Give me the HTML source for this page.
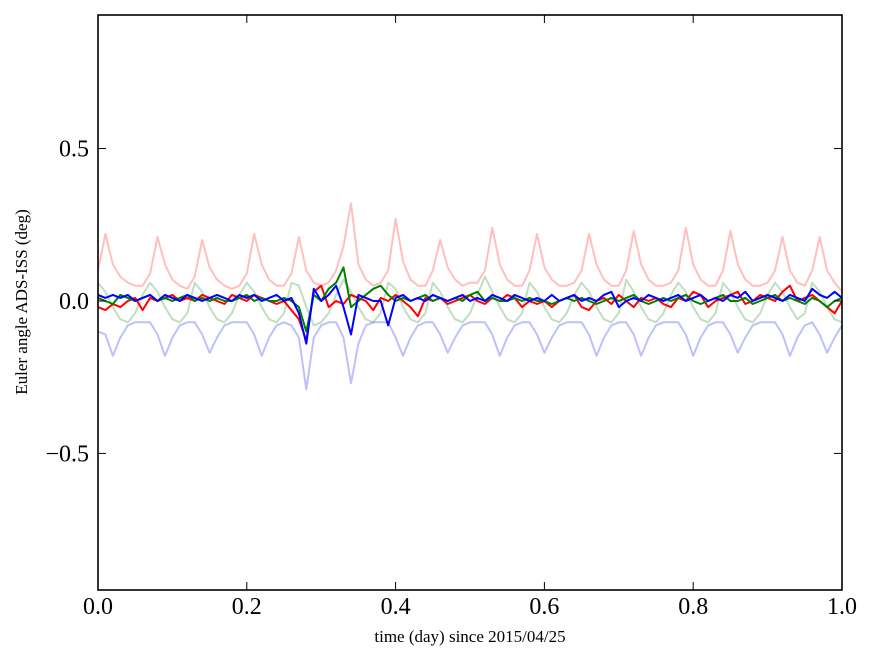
<!DOCTYPE html>
<html><head><meta charset="utf-8"><style>
body{margin:0;background:#fff;}
svg text{font-family:"Liberation Serif",serif;fill:#000;}
</style></head><body>
<svg id="c" width="875" height="662">
<rect x="0" y="0" width="875" height="662" fill="#fff"/>
<g id="series"></g>
<rect x="98" y="15" width="744" height="575" fill="none" stroke="#000" stroke-width="1.6"/>
<g id="axes"></g>
<text x="470" y="642" font-size="17" text-anchor="middle">time (day) since 2015/04/25</text>
<text transform="translate(27,302) rotate(-90)" font-size="17" text-anchor="middle">Euler angle ADS-ISS (deg)</text>
</svg>
<script>
const xTicks=[0,0.2,0.4,0.6,0.8,1.0];
const xTickLabels=["0.0","0.2","0.4","0.6","0.8","1.0"];
const yTicks=[-0.5,0,0.5];
const yTickLabels=["\u22120.5","0.0","0.5"];
const pinkFaint=[0.1,0.22,0.12,0.08,0.06,0.05,0.05,0.09,0.21,0.12,0.07,0.05,0.04,0.08,0.2,0.11,0.07,0.05,0.04,0.05,0.09,0.22,0.12,0.07,0.05,0.05,0.09,0.21,0.1,0.06,0.05,0.06,0.1,0.18,0.32,0.12,0.07,0.05,0.06,0.1,0.27,0.13,0.07,0.05,0.05,0.1,0.2,0.11,0.07,0.05,0.06,0.06,0.1,0.24,0.12,0.07,0.05,0.05,0.1,0.22,0.11,0.07,0.05,0.05,0.06,0.1,0.22,0.12,0.07,0.05,0.05,0.1,0.23,0.12,0.07,0.05,0.05,0.06,0.1,0.24,0.12,0.07,0.05,0.05,0.1,0.23,0.12,0.07,0.05,0.05,0.06,0.1,0.21,0.1,0.06,0.05,0.1,0.21,0.1,0.06,0.03];
const greenFaint=[0.06,0.03,-0.02,-0.06,-0.07,-0.04,0.02,0.06,0.03,-0.02,-0.06,-0.07,-0.04,0.06,0.03,-0.02,-0.06,-0.07,-0.04,0.02,0.06,0.03,-0.02,-0.06,-0.07,-0.04,0.06,0.05,-0.02,-0.08,-0.07,-0.04,0.02,0.07,0.03,-0.02,-0.06,-0.07,-0.04,0.06,0.04,-0.02,-0.06,-0.07,-0.04,0.06,0.03,-0.02,-0.06,-0.07,-0.04,0.02,0.08,0.03,-0.02,-0.06,-0.07,-0.04,0.06,0.03,-0.02,-0.06,-0.07,-0.04,0.02,0.06,0.03,-0.02,-0.06,-0.07,-0.04,0.07,0.03,-0.02,-0.06,-0.07,-0.04,0.02,0.06,0.03,-0.02,-0.06,-0.07,-0.04,0.06,0.03,-0.02,-0.06,-0.07,-0.04,0.02,0.06,0.03,-0.02,-0.06,-0.04,0.06,0.03,-0.02,-0.06,-0.07];
const blueFaint=[-0.1,-0.11,-0.18,-0.12,-0.08,-0.07,-0.07,-0.07,-0.11,-0.18,-0.12,-0.08,-0.07,-0.07,-0.11,-0.17,-0.12,-0.08,-0.07,-0.07,-0.07,-0.11,-0.18,-0.12,-0.08,-0.07,-0.08,-0.12,-0.29,-0.12,-0.08,-0.07,-0.07,-0.12,-0.27,-0.14,-0.08,-0.07,-0.07,-0.07,-0.12,-0.18,-0.12,-0.08,-0.07,-0.07,-0.11,-0.17,-0.12,-0.08,-0.07,-0.07,-0.07,-0.11,-0.18,-0.12,-0.08,-0.07,-0.07,-0.11,-0.17,-0.12,-0.08,-0.07,-0.07,-0.07,-0.11,-0.18,-0.12,-0.08,-0.07,-0.07,-0.11,-0.18,-0.12,-0.08,-0.07,-0.07,-0.07,-0.11,-0.18,-0.12,-0.08,-0.07,-0.07,-0.11,-0.17,-0.12,-0.08,-0.07,-0.07,-0.07,-0.11,-0.18,-0.12,-0.08,-0.07,-0.11,-0.17,-0.12,-0.08];
const redDark=[-0.02,-0.03,-0.01,-0.02,0.0,0.01,-0.03,0.01,0.0,0.01,0.02,0.0,0.01,0.0,0.02,0.01,0.0,-0.01,0.02,0.01,0.0,0.02,0.01,0.0,-0.01,0.0,-0.03,-0.06,-0.13,0.03,0.05,-0.02,0.0,-0.01,0.02,0.01,0.0,-0.03,0.01,0.0,0.02,0.0,-0.02,-0.05,0.01,0.0,0.01,-0.01,0.0,0.01,0.02,0.0,-0.01,0.01,0.0,0.02,0.01,-0.02,0.0,-0.01,0.0,-0.02,0.0,0.01,0.02,-0.02,-0.03,0.0,0.01,-0.01,0.02,0.0,-0.02,0.01,0.0,0.01,-0.01,-0.02,0.01,0.0,0.03,0.02,-0.02,0.0,0.01,0.02,0.03,-0.01,0.0,0.02,0.01,0.0,0.03,0.05,0.0,0.01,0.02,0.0,-0.02,-0.04,0.0];
const greenDark=[0.01,0.0,-0.01,0.02,0.01,0.0,0.01,0.02,0.0,0.01,0.0,0.01,0.02,0.0,0.01,0.0,0.01,0.0,0.0,0.01,0.02,0.0,0.01,0.0,0.0,0.01,0.0,-0.02,-0.1,0.02,0.0,0.04,0.06,0.11,-0.02,0.0,0.02,0.04,0.05,0.02,0.0,0.01,0.0,0.01,0.02,0.0,0.01,0.0,0.01,0.0,0.02,0.03,0.0,0.01,0.0,0.0,0.01,0.0,0.01,0.0,0.0,-0.01,0.0,0.01,0.0,0.01,0.0,-0.01,0.0,0.01,0.0,0.01,0.02,0.0,-0.01,0.0,0.01,0.0,0.01,0.02,0.0,-0.01,0.0,0.01,0.02,0.0,0.0,0.01,-0.01,0.0,0.01,0.02,0.0,0.01,0.0,-0.01,0.01,0.0,-0.02,0.0,0.01];
const blueDark=[0.02,0.01,0.02,0.01,0.02,0.0,0.01,0.02,0.0,0.02,0.01,0.0,0.02,0.01,0.0,0.01,0.02,0.01,0.0,0.02,0.01,0.02,0.0,0.01,0.02,0.0,0.01,-0.04,-0.14,0.04,0.0,0.02,0.05,-0.02,-0.11,0.02,0.01,0.0,0.0,-0.08,0.01,0.02,0.0,0.01,0.0,0.02,0.01,0.0,0.01,0.02,0.0,0.01,0.0,0.02,0.01,0.0,0.02,0.01,0.0,0.01,0.0,0.02,0.0,0.01,0.02,0.0,0.01,0.0,0.02,0.03,-0.02,0.0,0.01,0.0,0.02,0.01,0.0,0.01,0.02,0.0,0.01,0.02,0.0,0.01,0.0,0.02,0.01,0.03,0.0,0.01,0.02,0.01,0.0,0.02,0.01,0.0,0.04,0.02,0.01,0.03,0.01];

const X0=98,X1=842,Y0=15,Y1=590,YMIN=-0.948,YMAX=0.938;
const sx=v=>X0+(v-0)/(1-0)*(X1-X0);
const sy=v=>Y1-(v-YMIN)/(YMAX-YMIN)*(Y1-Y0);
const NS="http://www.w3.org/2000/svg";
const sg=document.getElementById('series');
function line(arr,color,w,name){
  const p=document.createElementNS(NS,'polyline');
  p.setAttribute('points',arr.map((v,i)=>sx(i/(arr.length-1)).toFixed(1)+','+sy(v).toFixed(1)).join(' '));
  p.setAttribute('fill','none');p.setAttribute('stroke',color);p.setAttribute('stroke-width',w);
  p.setAttribute('stroke-linejoin','round');
  
  
  sg.appendChild(p);
}
line(pinkFaint,'rgba(255,0,0,0.25)',2,'series-x-faint');
line(greenFaint,'rgba(0,128,0,0.25)',2,'series-y-faint');
line(blueFaint,'rgba(0,0,255,0.25)',2,'series-z-faint');
line(redDark,'#ff0000',2,'series-x');
line(greenDark,'#008000',2,'series-y');
line(blueDark,'#0000ff',2,'series-z');
const ag=document.getElementById('axes');
function el(tag,attrs){const e=document.createElementNS(NS,tag);for(const k in attrs)e.setAttribute(k,attrs[k]);ag.appendChild(e);return e;}
xTicks.forEach((t,i)=>{
  const x=sx(t);
  const a=el('line',{x1:x,x2:x,y1:Y1,y2:Y1-8,stroke:'#000'});
  
  
  const b=el('line',{x1:x,x2:x,y1:Y0,y2:Y0+8,stroke:'#000'});
  
  
  const tx=el('text',{x:x,y:614,'font-size':24,'text-anchor':'middle'});
  tx.textContent=xTickLabels[i];
  
  
});
yTicks.forEach((t,i)=>{
  const y=sy(t);
  const a=el('line',{x1:X0,x2:X0+8,y1:y,y2:y,stroke:'#000'});
  
  
  const b=el('line',{x1:X1,x2:X1-8,y1:y,y2:y,stroke:'#000'});
  
  
  const tx=el('text',{x:89,y:y+8,'font-size':24,'text-anchor':'end'});
  tx.textContent=yTickLabels[i];
  
  
});
</script>
</body></html>
